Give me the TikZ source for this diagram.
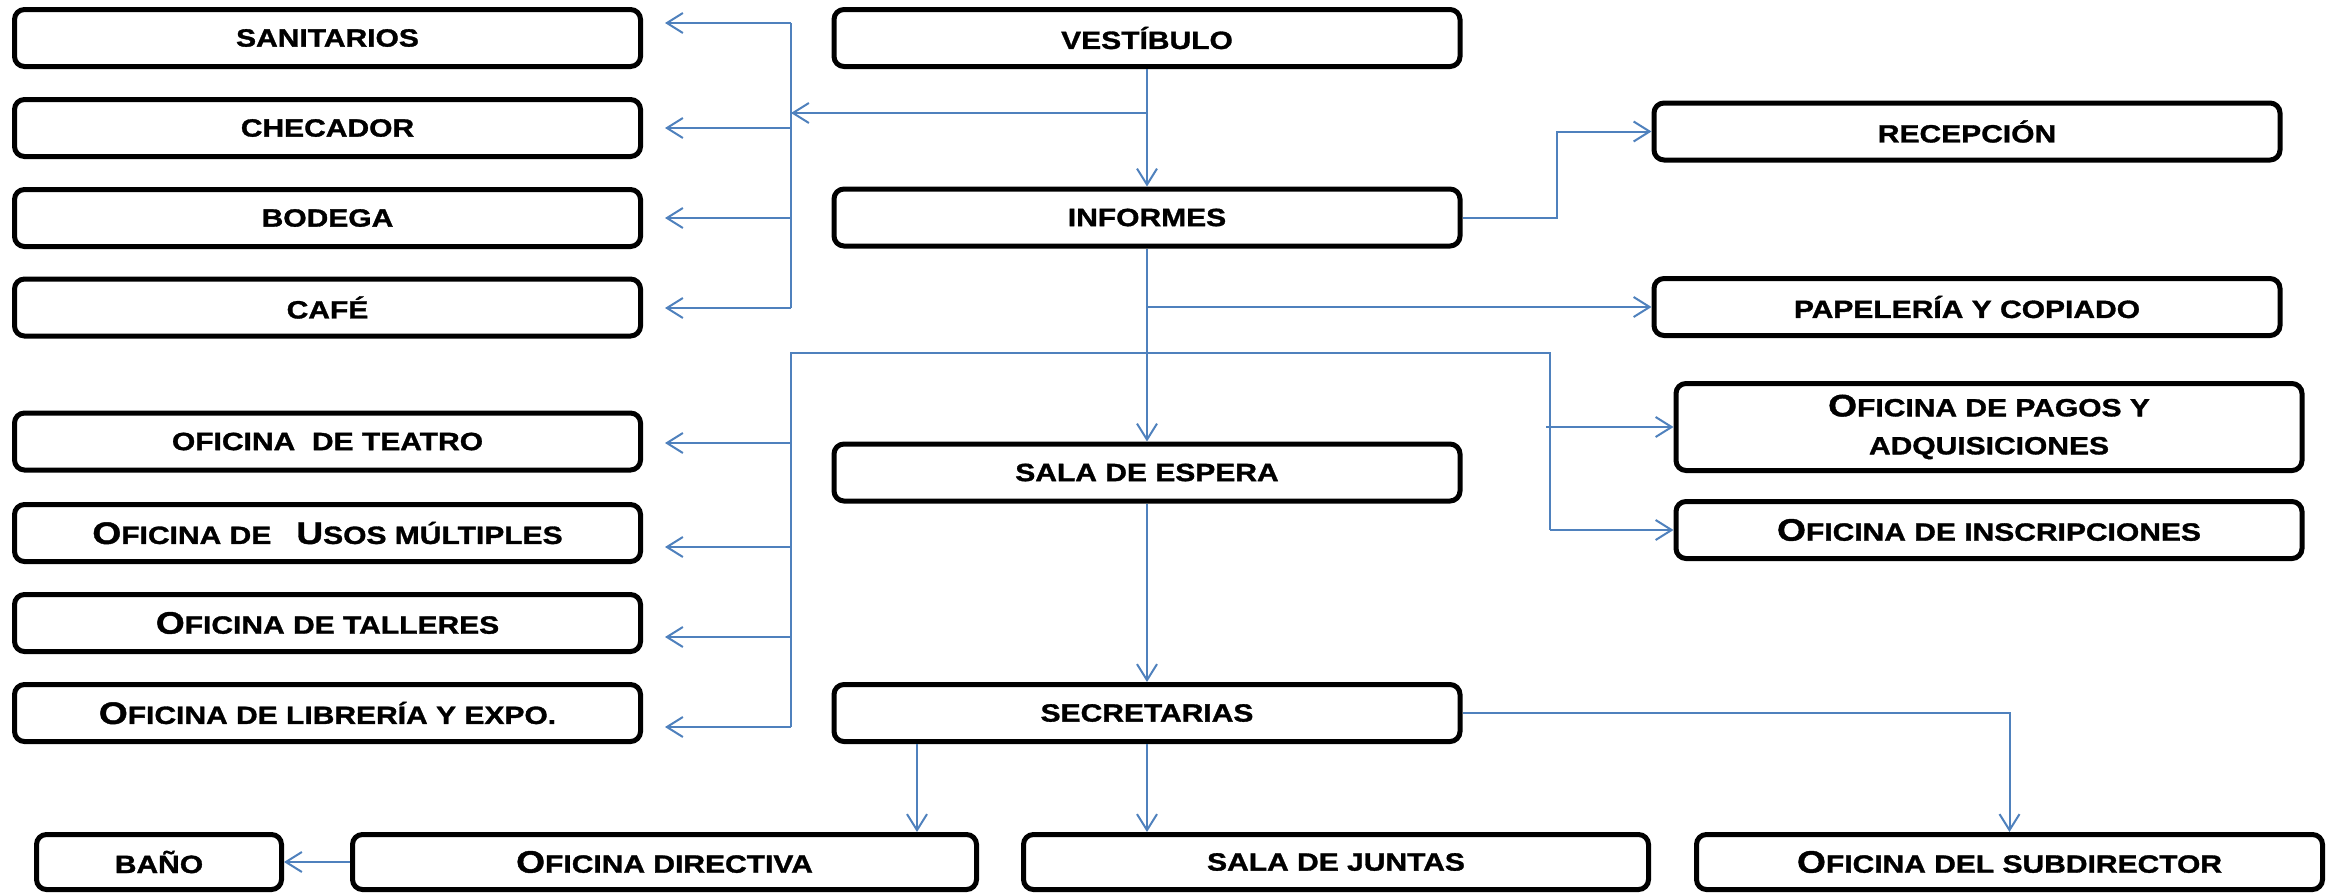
\documentclass[tikz,border=0pt]{standalone}
\usepackage{fontspec}
\setmainfont[FakeStretch=1.2,FakeBold=1.3]{Liberation Sans}
\usetikzlibrary{arrows.meta,calc}
\definecolor{conn}{RGB}{79,129,189}
\newcommand\bigL[1]{{\fontsize{31}{31}\selectfont #1}}
\begin{document}
\begin{tikzpicture}[x=1pt,y=-1pt,
  box/.style={draw=black, line width=5pt, rounded corners=10pt, fill=white,
    font=\fontsize{25}{38}\selectfont\bfseries, inner sep=0pt, align=center,
    minimum width=626pt, minimum height=57pt},
  ln/.style={draw=conn, line width=2pt},
  arr/.style={draw=conn, line width=2pt, -{Straight Barb[length=16pt,width=20pt]}}]
\useasboundingbox[fill=white] (0,0) rectangle (2327,894);
% left column
\node[box] (san) at (327.5,38) {SANITARIOS};
\node[box] (che) at (327.5,128) {CHECADOR};
\node[box] (bod) at (327.5,218) {BODEGA};
\node[box] (caf) at (327.5,307.5) {CAFÉ};
\node[box] (tea) at (327.5,441.5) {OFICINA\ \ DE TEATRO};
\node[box] (uso) at (327.5,533) {\bigL{O}FICINA DE\ \ \ \bigL{U}SOS MÚLTIPLES};
\node[box] (tal) at (327.5,623) {\bigL{O}FICINA DE TALLERES};
\node[box] (lib) at (327.5,713) {\bigL{O}FICINA DE LIBRERÍA Y EXPO.};
% center column
\node[box] (ves) at (1147,38) {VESTÍBULO};
\node[box] (inf) at (1147,217.5) {INFORMES};
\node[box] (esp) at (1147,472.5) {SALA DE ESPERA};
\node[box] (sec) at (1147,713) {SECRETARIAS};
% right column
\node[box] (rec) at (1967,131.5) {RECEPCIÓN};
\node[box] (pap) at (1967,307) {PAPELERÍA Y COPIADO};
\node[box, minimum height=87pt] (pag) at (1989,427) {\bigL{O}FICINA DE PAGOS Y\\ADQUISICIONES};
\node[box] (ins) at (1989,530) {\bigL{O}FICINA DE INSCRIPCIONES};
% bottom row
\node[box, minimum width=245pt, minimum height=55pt] (ban) at (159,862) {BAÑO};
\node[box, minimum width=624pt, minimum height=55pt] (dir) at (664.5,862) {\bigL{O}FICINA DIRECTIVA};
\node[box, minimum width=625pt, minimum height=55pt] (jun) at (1336,862) {SALA DE JUNTAS};
\node[box, minimum width=626pt, minimum height=55pt] (sub) at (2009.5,862) {\bigL{O}FICINA DEL SUBDIRECTOR};
% upper left trunk
\coordinate (t1) at (791,23);
\coordinate (t4) at (791,308);
\coordinate (vb) at (1148,113);
\draw[ln] (t1) -- (t4);
\draw[arr, shorten >=22pt] (t1) -- (t1 -| san.east);
\draw[arr, shorten >=22pt] (t1 |- che.east) -- (che.east);
\draw[arr, shorten >=22pt] (t1 |- bod.east) -- (bod.east);
\draw[arr, shorten >=22pt] (t4) -- (t4 -| caf.east);
\draw[arr] (vb) -- (vb -| t1);
\draw[arr] (ves.south) -- (inf.north);
% informes branches
\coordinate (ib) at (1148,307);
\draw[arr] (ib) -- (pap.west);
\draw[arr] (inf.east) -- ++(94,0) |- (rec.west);
\draw[arr] (inf.south) -- (esp.north);
% lower trunks
\coordinate (h1) at (791,353);
\coordinate (h2) at (1550,353);
\coordinate (l1) at (791,443);
\coordinate (l2) at (791,547);
\coordinate (l3) at (791,637);
\coordinate (l4) at (791,727);
\draw[ln] (l4) -- (h1) -- (h2) -- (h2 |- ins.west);
\draw[arr, shorten >=22pt] (l1) -- (l1 -| tea.east);
\draw[arr, shorten >=22pt] (l2) -- (l2 -| uso.east);
\draw[arr, shorten >=22pt] (l3) -- (l3 -| tal.east);
\draw[arr, shorten >=22pt] (l4) -- (l4 -| lib.east);
\draw[arr] ([xshift=-4pt]h2 |- pag.west) -- (pag.west);
\draw[arr] (h2 |- ins.west) -- (ins.west);
% secretarias
\draw[arr] (esp.south) -- (sec.north);
\coordinate (s1) at (917,744);
\draw[arr] (s1) -- (s1 |- dir.north);
\draw[arr] (sec.south) -- (sec.south |- jun.north);
\draw[arr] (sec.east) -| (sub.north);
\draw[arr] (dir.west) -- (ban.east);
\end{tikzpicture}
\end{document}
